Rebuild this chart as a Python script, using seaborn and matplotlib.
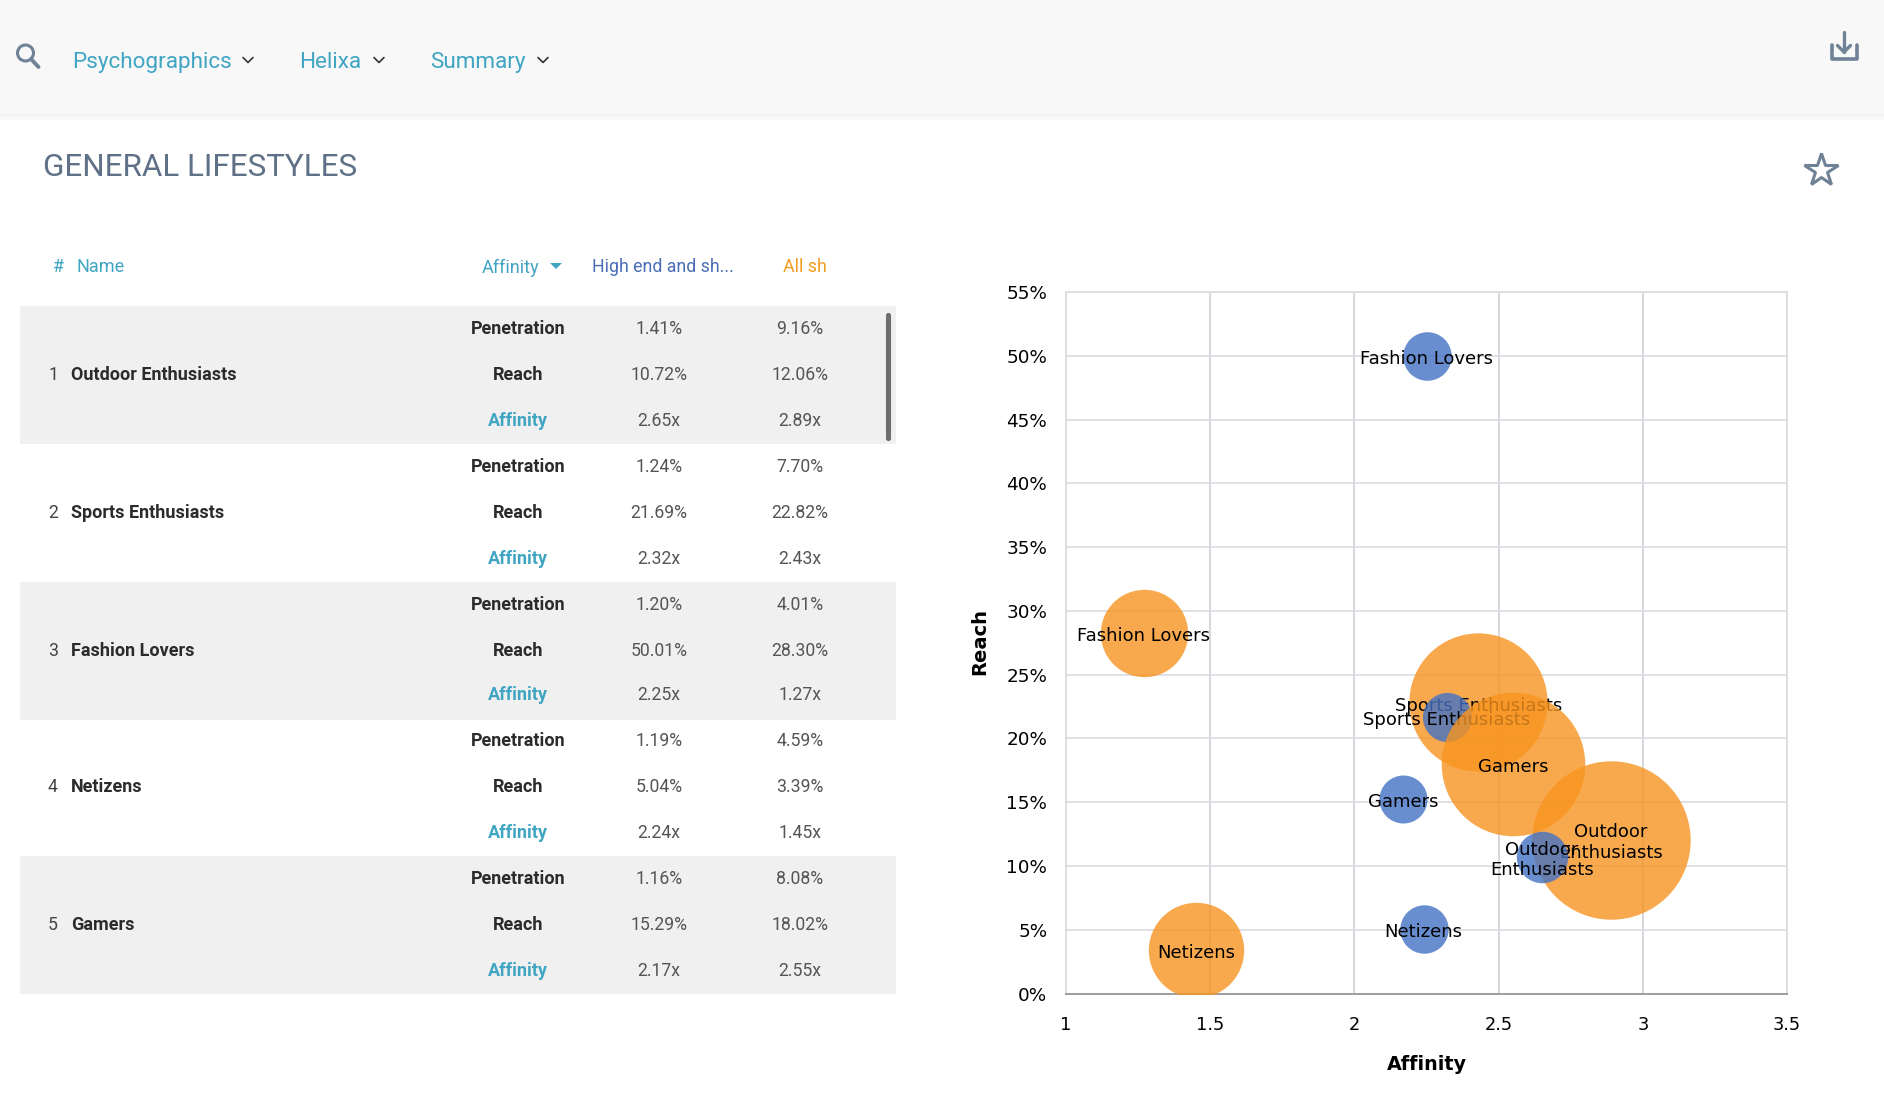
import numpy as np
import pandas as pd
import matplotlib
matplotlib.use("Agg")
import matplotlib.pyplot as plt
from matplotlib.patches import Rectangle, Circle, FancyBboxPatch
import seaborn as sns

# -----------------------------
# DATA
# -----------------------------
names = ["Outdoor Enthusiasts", "Sports Enthusiasts", "Fashion Lovers", "Netizens", "Gamers"]
bubble_labels = ["Outdoor\nEnthusiasts", "Sports Enthusiasts", "Fashion Lovers", "Netizens", "Gamers"]

high_penetration = [1.41, 1.24, 1.20, 1.19, 1.16]
high_reach = [10.72, 21.69, 50.01, 5.04, 15.29]
high_affinity = [2.65, 2.32, 2.25, 2.24, 2.17]

all_penetration = [9.16, 7.70, 4.01, 4.59, 8.08]
all_reach = [12.06, 22.82, 28.30, 3.39, 18.02]
all_affinity = [2.89, 2.43, 1.27, 1.45, 2.55]

x_ticks = [1, 1.5, 2, 2.5, 3, 3.5]
x_tick_labels = ["1", "1.5", "2", "2.5", "3", "3.5"]
y_ticks = [0, 5, 10, 15, 20, 25, 30, 35, 40, 45, 50, 55]
y_tick_labels = ["0%", "5%", "10%", "15%", "20%", "25%", "30%", "35%", "40%", "45%", "50%", "55%"]

menu_items = ["Psychographics", "Helixa", "Summary"]

# -----------------------------
# COLOURS
# -----------------------------
TEAL = "#3fa5c3"
SLATE = "#5f7186"
ICON = "#6f8296"
BLUE = "#4472C4"
ORANGE = "#F79420"
W, H = 1884, 1104

sns.set_theme(style="whitegrid")
plt.rcParams["font.family"] = ["Roboto", "DejaVu Sans"]

fig = plt.figure(figsize=(W / 100, H / 100), dpi=100, facecolor="white")

# -----------------------------
# PAGE AROUND THE CHART (pixel coordinates)
# -----------------------------
ui = fig.add_axes([0, 0, 1, 1])
ui.set_xlim(0, W)
ui.set_ylim(H, 0)
ui.axis("off")

ui.add_patch(Rectangle((0, 0), W, 114, color="#f8f8f8", lw=0))
ui.imshow(np.linspace(0.945, 0.98, 6).reshape(-1, 1), extent=(0, W, 120, 114),
          cmap="gray", vmin=0, vmax=1, aspect="auto")
ui.set_xlim(0, W)
ui.set_ylim(H, 0)

# search icon
ui.add_patch(Circle((25.5, 53), 8, fc="none", ec=ICON, lw=2.2))
ui.plot([31, 38.5], [59, 67], color=ICON, lw=2.8, solid_capstyle="round")


def chevron(x, y, color="#333333"):
    ui.plot([x - 5, x, x + 5], [y - 2.5, y + 2.5, y - 2.5], color=color, lw=1.2)


menu_x = [72, 299, 430]
chevron_x = [248, 379, 543]
for label, mx, cx in zip(menu_items, menu_x, chevron_x):
    ui.text(mx, 62.5, label, color=TEAL, fontsize=16.2, va="center", ha="left")
    chevron(cx, 60)

# download icon
ui.plot([1844, 1844], [32, 52], color=ICON, lw=2.4)
ui.plot([1837.5, 1844, 1850.5], [45.5, 52, 45.5], color=ICON, lw=2.4)
ui.plot([1831.5, 1831.5, 1857, 1857], [45, 58.5, 58.5, 45], color=ICON, lw=2.6)

ui.text(43, 167, "GENERAL LIFESTYLES", color=SLATE, fontsize=22.6, va="center", ha="left")
ui.plot([1820.5], [170], marker="*", ms=25, mfc="none", mec=ICON, mew=2.2)

# table header
ui.text(53, 267.5, "#", color=TEAL, fontsize=13, va="center", ha="left")
ui.text(76, 267.5, "Name", color=TEAL, fontsize=13, va="center", ha="left")
ui.text(482, 267.5, "Affinity", color=TEAL, fontsize=13, va="center", ha="left")
ui.fill([550, 562, 556], [263, 263, 269], color=TEAL, lw=0)
ui.text(592, 267.5, "High end and sh...", color="#4a6db5", fontsize=12.8, va="center", ha="left")
ui.text(783, 267.5, "All sh", color="#f39c1f", fontsize=12.8, va="center", ha="left")

# table rows
row_top = [306, 444, 582, 718, 856]
row_y = [[329, 375, 421], [467, 513, 559], [605, 651, 695], [741, 787, 833], [879, 925, 971]]
for i, name in enumerate(names):
    if i % 2 == 0:
        ui.add_patch(Rectangle((20, row_top[i]), 876, 137.5, color="#f0f0f0", lw=0))
    ys = row_y[i]
    ui.text(53, ys[1], str(i + 1), color="#444444", fontsize=12.7, va="center", ha="center")
    ui.text(71, ys[1], name, color="#2b2b2b", fontsize=13, weight="bold", va="center", ha="left")
    ui.text(518, ys[0], "Penetration", color="#2b2b2b", fontsize=13, weight="bold", va="center", ha="center")
    ui.text(518, ys[1], "Reach", color="#2b2b2b", fontsize=13, weight="bold", va="center", ha="center")
    ui.text(518, ys[2], "Affinity", color=TEAL, fontsize=13, weight="bold", va="center", ha="center")
    ui.text(659, ys[0], f"{high_penetration[i]:.2f}%", color="#555555", fontsize=12.7, va="center", ha="center")
    ui.text(659, ys[1], f"{high_reach[i]:.2f}%", color="#555555", fontsize=12.7, va="center", ha="center")
    ui.text(659, ys[2], f"{high_affinity[i]:.2f}x", color="#555555", fontsize=12.7, va="center", ha="center")
    ui.text(800, ys[0], f"{all_penetration[i]:.2f}%", color="#555555", fontsize=12.7, va="center", ha="center")
    ui.text(800, ys[1], f"{all_reach[i]:.2f}%", color="#555555", fontsize=12.7, va="center", ha="center")
    ui.text(800, ys[2], f"{all_affinity[i]:.2f}x", color="#555555", fontsize=12.7, va="center", ha="center")

ui.add_patch(FancyBboxPatch((887, 314), 3, 126, boxstyle="round,pad=0,rounding_size=1.5",
                            fc="#6e6e6e", ec="#6e6e6e", lw=1.5))

# -----------------------------
# BUBBLE CHART
# -----------------------------
ax = fig.add_axes([1066 / W, 1 - 993.6 / H, (1787 - 1066) / W, (993.6 - 292) / H])
ax.set_facecolor("white")

df = pd.concat([
    pd.DataFrame({"label": bubble_labels, "Affinity": high_affinity, "Reach": high_reach,
                  "Penetration": high_penetration, "series": "high"}),
    pd.DataFrame({"label": bubble_labels, "Affinity": all_affinity, "Reach": all_reach,
                  "Penetration": all_penetration, "series": "all"}),
], ignore_index=True)

# orange first, then blue on top of it, the orange Gamers bubble last of all
draw_order = [5, 6, 7, 8, 0, 1, 2, 3, 4, 9]


def bubble_area(penetration):
    # radius in pixels grows linearly with penetration, scatter wants points squared
    radius_px = 16 + 6.9 * penetration
    return (2 * radius_px * 0.72) ** 2


# one call per bubble so the later ones cover the earlier labels
for z, idx in enumerate(draw_order):
    row = df.loc[idx]
    color = BLUE if row["series"] == "high" else ORANGE
    sns.scatterplot(x=[row["Affinity"]], y=[row["Reach"]], s=bubble_area(row["Penetration"]),
                    color=color, alpha=0.8, linewidth=0, ax=ax, zorder=3 + z * 2, legend=False)
    ax.annotate(row["label"], (row["Affinity"], row["Reach"]), xytext=(0, -2.2),
                textcoords="offset points", family="DejaVu Sans", fontsize=13,
                color="black", ha="center", va="center", zorder=4 + z * 2)

ax.set_xlim(1, 3.5)
ax.set_ylim(0, 55)
ax.set_xticks(x_ticks)
ax.set_xticklabels(x_tick_labels, family="DejaVu Sans", fontsize=12.8, color="black")
ax.set_yticks(y_ticks)
ax.set_yticklabels(y_tick_labels, family="DejaVu Sans", fontsize=13.2, color="black")
ax.tick_params(axis="both", length=0)
ax.tick_params(axis="x", pad=16)
ax.tick_params(axis="y", pad=13.5)
ax.grid(True, axis="y", color="#dcdce0", lw=1.2)
ax.grid(True, axis="x", color="#cfcfd5", lw=1.2)
ax.set_axisbelow(True)
for side in ["top", "right", "left"]:
    ax.spines[side].set_color("#dcdce0")
    ax.spines[side].set_linewidth(1.2)
ax.spines["bottom"].set_color("#9e9e9e")
ax.spines["bottom"].set_linewidth(1.4)

ax.set_xlabel("Affinity", family="DejaVu Sans", fontsize=13.8, weight="bold", color="black")
ax.set_ylabel("Reach", family="DejaVu Sans", fontsize=14, weight="bold", color="black")
ax.xaxis.set_label_coords(0.5, -(1064 - 993.6) / (993.6 - 292), transform=ax.transAxes)
ax.xaxis.label.set_verticalalignment("center")
ax.yaxis.set_label_coords(-(1066 - 980) / (1787 - 1066), 0.502, transform=ax.transAxes)
ax.yaxis.label.set_verticalalignment("center")

fig.savefig("out.png", dpi=100)
